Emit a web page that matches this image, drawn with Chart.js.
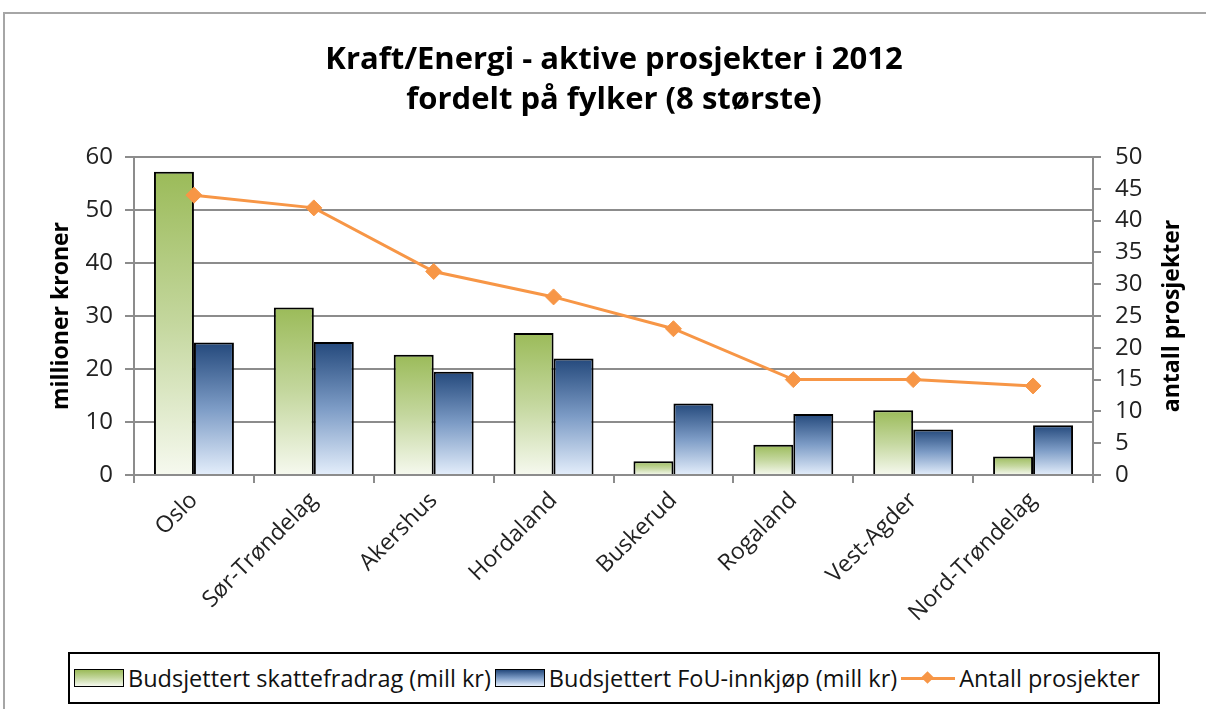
<!DOCTYPE html>
<html>
<head>
<meta charset="utf-8">
<script src="https://cdn.jsdelivr.net/npm/chart.js@4"></script>
<style>
  html, body { margin: 0; padding: 0; background: #fff; }
  #wrap { position: relative; width: 1206px; height: 709px; overflow: hidden; font-family: "Open Sans", Lato, sans-serif; }
  #frame { position: absolute; left: 3px; top: 12px; width: 1400px; height: 900px; border-left: 2px solid #a6a6a6; border-top: 2px solid #a6a6a6; }
  #chart { position: absolute; left: 0; top: 0; }
  #legend { position: absolute; left: 68px; top: 652px; width: 1088px; height: 48px; border: 2px solid #000; display: flex; align-items: center; white-space: nowrap; overflow: hidden; font-size: 23.5px; color: #111; background: #fff; }
  .item { display: flex; align-items: center; margin-left: 4px; }
  .swatch { display: inline-block; width: 48px; height: 16px; border: 1.5px solid #000; margin-right: 4px; }
  .lineswatch { position: relative; width: 54px; height: 18px; margin-right: 4px; }
  .lineswatch:before { content: ''; position: absolute; left: 0; right: 0; top: 8px; height: 3px; background: #F79646; }
  .lineswatch:after { content: ''; position: absolute; left: 22px; top: 4px; width: 9px; height: 9px; background: #F79646; transform: rotate(45deg); }
</style>
</head>
<body>
<div id="wrap">
  <div id="frame"></div>
  <canvas id="chart" width="1206" height="709"></canvas>
  <div id="legend"></div>
</div>
<script>
// Data
const categories = ['Oslo', 'Sør-Trøndelag', 'Akershus', 'Hordaland', 'Buskerud', 'Rogaland', 'Vest-Agder', 'Nord-Trøndelag'];
const skattefradrag = [57.2, 31.6, 22.7, 26.8, 2.6, 5.7, 12.2, 3.5];
const fouInnkjop = [25.0, 25.1, 19.5, 22.0, 13.5, 11.5, 8.6, 9.4];
const antallProsjekter = [44, 42, 32, 28, 23, 15, 15, 14];
const seriesLabels = ['Budsjettert skattefradrag (mill kr)', 'Budsjettert FoU-innkjøp (mill kr)', 'Antall prosjekter'];
const titleLines = ['Kraft/Energi - aktive prosjekter i 2012', 'fordelt på fylker (8 største)'];
const leftTitle = 'millioner kroner';
const rightTitle = 'antall prosjekter';

const gridGray = '#8c8c8c';
const font = '"Open Sans", Lato, sans-serif';

// per-bar vertical gradient, dark at top to pale at bottom
function barGradient(stops) {
    return function(context) {
        const chart = context.chart;
        if (!chart.chartArea || context.parsed === undefined) return stops[0];
        const y = chart.scales.y;
        const top = y.getPixelForValue(context.parsed.y);
        const bottom = y.getPixelForValue(0);
        if (!isFinite(top) || bottom - top < 1) return stops[0];
        const g = chart.ctx.createLinearGradient(0, top, 0, bottom);
        g.addColorStop(0, stops[0]);
        g.addColorStop(0.5, stops[1]);
        g.addColorStop(1, stops[2]);
        return g;
    };
}

const greenStops = ['#9BBB59', '#C4D79E', '#F6F9EF'];
const blueStops = ['#24497C', '#7D9CC6', '#E4EEFB'];

// draws the title and both axis titles
const textPlugin = {
    id: 'texts',
    afterDraw(chart) {
        const ctx = chart.ctx;
        const area = chart.chartArea;
        const midY = (area.top + area.bottom) / 2;
        ctx.save();
        ctx.fillStyle = '#000';
        ctx.textAlign = 'center';
        ctx.textBaseline = 'middle';
        ctx.font = 'bold 31px ' + font;
        ctx.fillText(titleLines[0], 614, 60);
        ctx.fillText(titleLines[1], 614, 100);

        ctx.font = 'bold 23px ' + font;
        ctx.translate(61, midY);
        ctx.rotate(-Math.PI / 2);
        ctx.fillText(leftTitle, 0, 0);
        ctx.restore();

        ctx.save();
        ctx.fillStyle = '#000';
        ctx.textAlign = 'center';
        ctx.textBaseline = 'middle';
        ctx.font = 'bold 23px ' + font;
        ctx.translate(1172, midY);
        ctx.rotate(-Math.PI / 2);
        ctx.fillText(rightTitle, 0, 0);
        ctx.restore();
    }
};

const ctx = document.getElementById('chart').getContext('2d');
const chart = new Chart(ctx, {
    data: {
        labels: categories,
        datasets: [
            {
                type: 'line',
                label: seriesLabels[2],
                data: antallProsjekter,
                yAxisID: 'y1',
                borderColor: '#F79646',
                backgroundColor: '#F79646',
                borderWidth: 3,
                pointStyle: 'rectRot',
                pointRadius: 8,
                pointBorderWidth: 1,
                tension: 0,
                order: 0
            },
            {
                type: 'bar',
                label: seriesLabels[0],
                data: skattefradrag,
                yAxisID: 'y',
                backgroundColor: barGradient(greenStops),
                borderColor: '#000',
                borderWidth: 2,
                borderSkipped: 'bottom',
                categoryPercentage: 0.667,
                barPercentage: 1,
                order: 1
            },
            {
                type: 'bar',
                label: seriesLabels[1],
                data: fouInnkjop,
                yAxisID: 'y',
                backgroundColor: barGradient(blueStops),
                borderColor: '#000',
                borderWidth: 2,
                borderSkipped: 'bottom',
                categoryPercentage: 0.667,
                barPercentage: 1,
                order: 1
            }
        ]
    },
    options: {
        responsive: false,
        animation: false,
        layout: { padding: { top: 157, bottom: 69, left: 0, right: 0 } },
        plugins: {
            legend: { display: false },
            title: { display: false },
            tooltip: { enabled: false }
        },
        scales: {
            x: {
                offset: true,
                grid: { offset: true, drawOnChartArea: false, drawTicks: true, tickLength: 8, color: gridGray, lineWidth: 2 },
                border: { color: gridGray, width: 2 },
                ticks: { color: '#222', font: { family: font, size: 23 }, minRotation: 45, maxRotation: 45, padding: 4 },
                afterFit(scale) { scale.height = 165; }
            },
            y: {
                position: 'left',
                min: 0,
                max: 60,
                ticks: { stepSize: 10, color: '#222', font: { family: font, size: 24 }, padding: 12 },
                grid: { color: gridGray, lineWidth: 2, tickLength: 9 },
                border: { color: gridGray, width: 2 },
                afterFit(scale) { scale.width = 134; }
            },
            y1: {
                position: 'right',
                min: 0,
                max: 50,
                ticks: { stepSize: 5, color: '#222', font: { family: font, size: 24 }, padding: 14 },
                grid: { drawOnChartArea: false, color: gridGray, lineWidth: 2, tickLength: 8 },
                border: { color: gridGray, width: 2 },
                afterFit(scale) { scale.width = 113; }
            }
        }
    },
    plugins: [textPlugin]
});

// html legend built from the dataset labels
const legend = document.getElementById('legend');
const swatchCss = [
    'linear-gradient(to bottom, ' + greenStops.join(', ') + ')',
    'linear-gradient(to bottom, ' + blueStops.join(', ') + ')'
];
seriesLabels.forEach((label, i) => {
    const item = document.createElement('div');
    item.className = 'item';
    const sw = document.createElement('span');
    if (i < 2) {
        sw.className = 'swatch';
        sw.style.background = swatchCss[i];
    } else {
        sw.className = 'lineswatch';
    }
    const txt = document.createElement('span');
    txt.textContent = label;
    item.appendChild(sw);
    item.appendChild(txt);
    legend.appendChild(item);
});
</script>
</body>
</html>
